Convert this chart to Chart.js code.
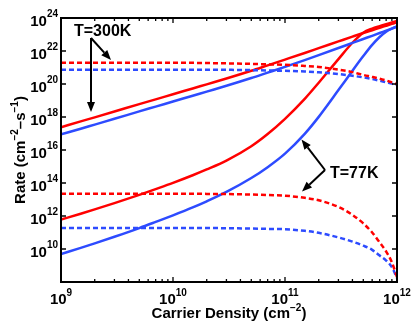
<!DOCTYPE html>
<html><head><meta charset="utf-8">
<script src="https://cdn.jsdelivr.net/npm/chart.js@4/dist/chart.umd.min.js"></script>
<style>html,body{margin:0;padding:0;background:#fff;}canvas{display:block;}</style>
</head><body>
<canvas id="c" width="415" height="327"></canvas>
<script>
// Carrier density (cm^-2), x values
const carrierDensity = [1e9, 1.5e9, 2e9, 3e9, 5e9, 7e9, 1e10, 1.5e10, 2e10, 3e10, 5e10, 7e10, 1e11, 1.5e11, 2e11, 3e11, 4e11, 5e11, 6e11, 7e11, 8e11, 9e11, 1e12];

// T = 300 K
const red300Solid = [2.4e17, 5.4e17, 9.5e17, 2.14e18, 6.03e18, 1.17e19, 2.4e19, 5.37e19, 9.55e19, 2.14e20, 6.31e20, 1.35e21, 3.02e21, 7.59e21, 1.48e22, 3.8e22, 7.41e22, 1.23e23, 1.82e23, 2.57e23, 3.39e23, 4.37e23, 5.62e23];
const blue300Solid = [8.9e16, 1.95e17, 3.47e17, 7.76e17, 2.19e18, 4.27e18, 8.71e18, 1.95e19, 3.47e19, 7.76e19, 2.29e20, 4.9e20, 1.1e21, 2.82e21, 5.62e21, 1.51e22, 3.09e22, 5.37e22, 8.32e22, 1.23e23, 1.7e23, 2.29e23, 3.02e23];
const red300Dashed = [1.95e21, 1.95e21, 1.95e21, 1.95e21, 1.95e21, 1.95e21, 1.91e21, 1.91e21, 1.86e21, 1.78e21, 1.66e21, 1.55e21, 1.45e21, 1.23e21, 1.07e21, 7.41e20, 5.25e20, 3.55e20, 2.69e20, 2.09e20, 1.62e20, 1.26e20, 1.0e20];
const blue300Dashed = [7.41e20, 7.41e20, 7.41e20, 7.41e20, 7.41e20, 7.41e20, 7.41e20, 7.41e20, 7.41e20, 7.24e20, 6.92e20, 6.61e20, 6.31e20, 5.75e20, 5.13e20, 3.98e20, 3.16e20, 2.51e20, 2.0e20, 1.58e20, 1.26e20, 1.05e20, 8.5e19];

// T = 77 K
const red77Solid = [6.03e11, 1.38e12, 2.51e12, 6.03e12, 1.91e13, 4.27e13, 1.02e14, 2.95e14, 6.61e14, 2.29e15, 1.7e16, 9.33e16, 7.76e17, 1.26e19, 1.2e20, 3.24e21, 3.16e22, 1.29e23, 2.29e23, 3.24e23, 4.27e23, 5.37e23, 6.61e23];
const blue77Solid = [5.01e9, 1.17e10, 2.19e10, 5.5e10, 1.86e11, 4.37e11, 1.1e12, 3.31e12, 7.76e12, 2.88e13, 2.0e14, 9.12e14, 6.03e15, 9.55e16, 1.02e18, 4.27e19, 6.31e20, 4.9e21, 2.34e22, 7.08e22, 1.48e23, 2.29e23, 3.09e23];
const red77Dashed = [2.24e13, 2.24e13, 2.24e13, 2.24e13, 2.24e13, 2.24e13, 2.24e13, 2.24e13, 2.19e13, 2.14e13, 2.0e13, 1.86e13, 1.7e13, 1.26e13, 8.91e12, 3.55e12, 1.17e12, 3.55e11, 1.0e11, 2.51e10, 7.08e9, 1.58e9, 2.0e8];
const blue77Dashed = [1.86e11, 1.86e11, 1.86e11, 1.86e11, 1.86e11, 1.86e11, 1.86e11, 1.86e11, 1.86e11, 1.82e11, 1.74e11, 1.66e11, 1.58e11, 1.26e11, 9.55e10, 5.01e10, 2.82e10, 1.58e10, 8.91e9, 3.98e9, 2.0e9, 7.94e8, 1.78e8];

// Axis ticks
const xTickExponents = [9, 10, 11, 12];
const yTickExponents = [10, 12, 14, 16, 18, 20, 22, 24];
const yMajorExponents = [8, 10, 12, 14, 16, 18, 20, 22, 24];

const RED = '#ff0000', BLUE = '#2d4bff';
const FONT = '"Liberation Sans", Arial, Helvetica, sans-serif';

function pts(arr) { return carrierDensity.map((x, i) => ({ x: x, y: arr[i] })); }
function ds(arr, color, dashed) {
  return { data: pts(arr), borderColor: color, borderWidth: 2.5, borderDash: dashed ? [5, 3] : [],
    pointRadius: 0, fill: false, cubicInterpolationMode: 'monotone' };
}

function supText(ctx, base, exp, x, y, align, baseSize, expSize, raise) {
  ctx.font = 'bold ' + baseSize + 'px ' + FONT;
  const wb = ctx.measureText(base).width;
  ctx.font = 'bold ' + expSize + 'px ' + FONT;
  const we = ctx.measureText(exp).width;
  const w = wb + we;
  let left = x;
  if (align === 'right') left = x - w; else if (align === 'center') left = x - w / 2;
  ctx.textAlign = 'left'; ctx.textBaseline = 'alphabetic';
  ctx.font = 'bold ' + baseSize + 'px ' + FONT;
  ctx.fillText(base, left, y);
  ctx.font = 'bold ' + expSize + 'px ' + FONT;
  ctx.fillText(exp, left + wb, y - raise);
}

function richText(ctx, parts, x, y, size, supSize, raise) {
  let w = 0;
  parts.forEach(p => { ctx.font = 'bold ' + (p[1] ? supSize : size) + 'px ' + FONT; w += ctx.measureText(p[0]).width; });
  let cx = x - w / 2;
  ctx.textAlign = 'left'; ctx.textBaseline = 'alphabetic';
  parts.forEach(p => {
    ctx.font = 'bold ' + (p[1] ? supSize : size) + 'px ' + FONT;
    ctx.fillText(p[0], cx, p[1] ? y - raise : y);
    cx += ctx.measureText(p[0]).width;
  });
}

function arrow(ctx, x1, y1, x2, y2) {
  const ang = Math.atan2(y2 - y1, x2 - x1);
  const L = 10, H = 4;
  const bx = x2 - L * Math.cos(ang), by = y2 - L * Math.sin(ang);
  ctx.beginPath(); ctx.moveTo(x1, y1); ctx.lineTo(bx, by); ctx.stroke();
  ctx.beginPath();
  ctx.moveTo(x2, y2);
  ctx.lineTo(bx + H * Math.sin(ang), by - H * Math.cos(ang));
  ctx.lineTo(bx - H * Math.sin(ang), by + H * Math.cos(ang));
  ctx.closePath(); ctx.fill();
}

const decor = {
  id: 'decor',
  afterDraw(chart) {
    const ctx = chart.ctx, a = chart.chartArea, xs = chart.scales.x, ys = chart.scales.y;
    ctx.save();
    ctx.strokeStyle = '#000'; ctx.fillStyle = '#000';
    ctx.lineWidth = 2;
    ctx.strokeRect(a.left, a.top, a.right - a.left, a.bottom - a.top);
    ctx.lineWidth = 1.3;
    for (let e = 9; e <= 12; e++) {
      for (let k = 1; k <= 9; k++) {
        const v = k * Math.pow(10, e);
        if (v > 1e12 * 1.0001) break;
        const px = xs.getPixelForValue(v);
        const len = k === 1 ? 5 : 3;
        ctx.beginPath();
        ctx.moveTo(px, a.bottom); ctx.lineTo(px, a.bottom - len);
        ctx.moveTo(px, a.top); ctx.lineTo(px, a.top + len);
        ctx.stroke();
      }
    }
    yMajorExponents.forEach(e => {
      const py = ys.getPixelForValue(Math.pow(10, e));
      ctx.beginPath();
      ctx.moveTo(a.left, py); ctx.lineTo(a.left + 5, py);
      ctx.moveTo(a.right, py); ctx.lineTo(a.right - 5, py);
      ctx.stroke();
    });
    xTickExponents.forEach(e => {
      const px = xs.getPixelForValue(Math.pow(10, e));
      supText(ctx, '10', String(e), px, 304, 'center', 15, 10, 8);
    });
    yTickExponents.forEach(e => {
      const py = ys.getPixelForValue(Math.pow(10, e));
      supText(ctx, '10', String(e), 58, py + 8, 'right', 15, 10, 9);
    });
    richText(ctx, [['Carrier Density (cm', false], ['\u22122', true], [')', false]], (a.left + a.right) / 2, 318, 15, 10, 7);
    ctx.save();
    ctx.translate(25, (a.top + a.bottom) / 2);
    ctx.rotate(-Math.PI / 2);
    richText(ctx, [['Rate (cm', false], ['\u22122', true], ['\u2013s', false], ['\u22121', true], [')', false]], 0, 0, 15, 10, 7);
    ctx.restore();
    ctx.font = 'bold 16px ' + FONT; ctx.textAlign = 'left'; ctx.textBaseline = 'alphabetic';
    ctx.fillText('T=300K', 74, 36);
    ctx.fillText('T=77K', 330, 178);
    ctx.lineWidth = 2;
    arrow(ctx, 91, 38, 91, 112);
    arrow(ctx, 91, 38, 111, 60);
    arrow(ctx, 325, 170, 301.5, 139.5);
    arrow(ctx, 325, 170, 302, 191.5);
    ctx.restore();
  }
};

new Chart(document.getElementById('c'), {
  type: 'line',
  data: {
    datasets: [
      ds(red300Dashed, RED, true),
      ds(blue300Dashed, BLUE, true),
      ds(red77Dashed, RED, true),
      ds(blue77Dashed, BLUE, true),
      ds(blue300Solid, BLUE, false),
      ds(red300Solid, RED, false),
      ds(blue77Solid, BLUE, false),
      ds(red77Solid, RED, false)
    ]
  },
  options: {
    responsive: false, animation: false, devicePixelRatio: 1,
    layout: { padding: { left: 61, right: 18, top: 18, bottom: 45 } },
    plugins: { legend: { display: false }, tooltip: { enabled: false } },
    scales: {
      x: { type: 'logarithmic', min: 1e9, max: 1e12, display: false },
      y: { type: 'logarithmic', min: 1e8, max: 1e24, display: false }
    }
  },
  plugins: [decor]
});
</script>
</body></html>
